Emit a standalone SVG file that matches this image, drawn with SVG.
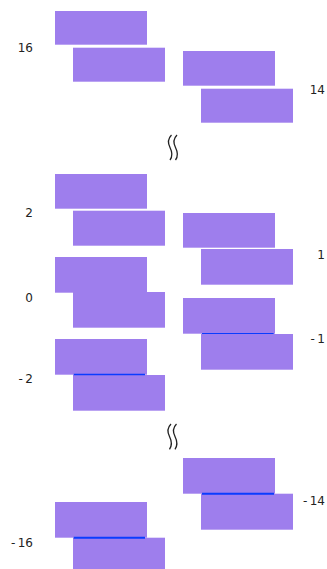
<svg xmlns="http://www.w3.org/2000/svg" width="327" height="569" viewBox="0 0 327 569">
<style>
.bar{fill:#9e7eed}
.lbl{font-family:"DejaVu Sans",sans-serif;font-size:12px;fill:#222}
.l{text-anchor:end}
.link{stroke:#0a3cff;fill:none}
.brk{stroke:#222;stroke-width:1.3;fill:none}
</style>
<rect width="327" height="569" fill="#fff"/>
<g id="n16a"><rect class="bar" x="55" y="11" width="92" height="33.7"/></g>
<g id="n16b"><rect class="bar" x="73" y="47.7" width="92" height="34"/></g>
<g id="n14a"><rect class="bar" x="183" y="51" width="92" height="34.7"/></g>
<g id="n14b"><rect class="bar" x="201" y="88.7" width="92" height="34"/></g>
<g id="n2a"><rect class="bar" x="55" y="174" width="92" height="34.7"/></g>
<g id="n2b"><rect class="bar" x="73" y="210.7" width="92" height="35"/></g>
<g id="n0a"><rect class="bar" x="55" y="257" width="92" height="35.7"/></g>
<g id="n0b"><rect class="bar" x="73" y="292" width="92" height="35.7"/></g>
<g id="nm2a"><rect class="bar" x="55" y="339" width="92" height="35.7"/></g>
<g id="nm2b"><rect class="bar" x="73" y="375" width="92" height="35.7"/></g>
<g id="n1a"><rect class="bar" x="183" y="213" width="92" height="34.7"/></g>
<g id="n1b"><rect class="bar" x="201" y="249" width="92" height="35.7"/></g>
<g id="nm1a"><rect class="bar" x="183" y="298" width="92" height="35.7"/></g>
<g id="nm1b"><rect class="bar" x="201" y="334" width="92" height="35.7"/></g>
<g id="nm14a"><rect class="bar" x="183" y="458" width="92" height="35.7"/></g>
<g id="nm14b"><rect class="bar" x="201" y="493.7" width="92" height="36"/></g>
<g id="nm16a"><rect class="bar" x="55" y="502" width="92" height="35.7"/></g>
<g id="nm16b"><rect class="bar" x="73" y="537.7" width="92" height="35.7"/></g>
<g id="connectors">
<line class="link" x1="73.7" y1="374.6" x2="145" y2="374.6" stroke-width="1.5"/>
<line class="link" x1="202" y1="333.5" x2="273.7" y2="333.5" stroke-width="1"/>
<line class="link" x1="202" y1="493.8" x2="274" y2="493.8" stroke-width="2"/>
<line class="link" x1="73.7" y1="537.8" x2="145" y2="537.8" stroke-width="2"/>
</g>
<g id="labels">
<text class="lbl l" x="33" y="52">16</text>
<text class="lbl l" x="325" y="93.5">14</text>
<text class="lbl l" x="33" y="216.5">2</text>
<text class="lbl l" x="325" y="258.5">1</text>
<text class="lbl l" x="33" y="301.5">0</text>
<text class="lbl l" x="325" y="343">-<tspan dx="2.4">1</tspan></text>
<text class="lbl l" x="33" y="382.5">-<tspan dx="2.4">2</tspan></text>
<text class="lbl l" x="325" y="504.5">-<tspan dx="2.4">14</tspan></text>
<text class="lbl l" x="33" y="546.5">-<tspan dx="2.4">16</tspan></text>
</g>
<g id="break1">
<path class="brk" d="M171.5,135 C167.5,139 167.5,142.5 170,147.5 C172.5,152.5 173,156 170,160"/>
<path class="brk" d="M177,135 C173,139 173,142.5 175.5,147.5 C178,152.5 178.5,156 175.5,160"/>
</g>
<g id="break2">
<path class="brk" d="M171,424 C167,428 167,431.5 169.5,436.5 C172,441.5 172.5,445 169.5,449.3"/>
<path class="brk" d="M176.5,424 C172.5,428 172.5,431.5 175,436.5 C177.5,441.5 178,445 175,449.3"/>
</g>
</svg>
